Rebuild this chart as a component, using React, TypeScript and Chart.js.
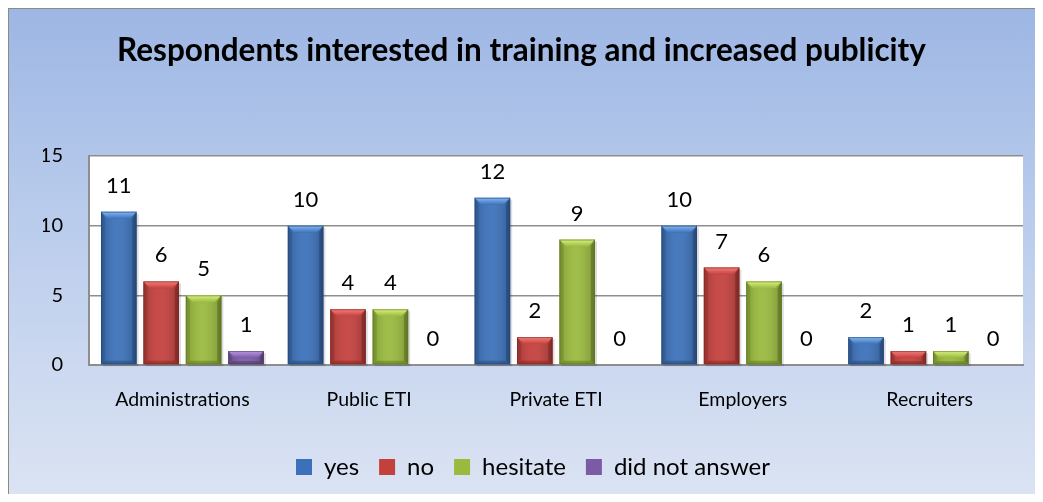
import React, { useEffect, useRef } from "react";
import { Chart, registerables } from "chart.js";

Chart.register(...registerables);

const categories = ["Administrations", "Public ETI", "Private ETI", "Employers", "Recruiters"];
const seriesNames = ["yes", "no", "hesitate", "did not answer"];
const yesValues = [11, 10, 12, 10, 2];
const noValues = [6, 4, 2, 7, 1];
const hesitateValues = [5, 4, 9, 6, 1];
const noAnswerValues = [1, 0, 0, 0, 0];
const yTickValues = [0, 5, 10, 15];
const titleText = "Respondents interested in training and increased publicity";
const figureCaption = "Figure 6";

const palette = [
  { body: "#3b71ba", light: "#86b9f2", dark: "#23477a" },
  { body: "#c4403d", light: "#f5807c", dark: "#852523" },
  { body: "#99ba3d", light: "#daf283", dark: "#5f771e" },
  { body: "#7c5ba5", light: "#bd9ae9", dark: "#4b356a" },
];

const FONT = "Lato, 'Open Sans', 'DejaVu Sans', sans-serif";

const plotBackground = {
  id: "plotBackground",
  beforeDraw(chart: any) {
    const { ctx, chartArea } = chart;
    ctx.save();
    ctx.fillStyle = "#ffffff";
    ctx.fillRect(chartArea.left, chartArea.top, chartArea.right - chartArea.left, chartArea.bottom - chartArea.top);
    ctx.restore();
  },
};

const centeredTitle = {
  id: "centeredTitle",
  afterDraw(chart: any) {
    const { ctx } = chart;
    ctx.save();
    ctx.font = `bold 31.5px ${FONT}`;
    ctx.fillStyle = "#000000";
    ctx.textAlign = "center";
    ctx.textBaseline = "middle";
    ctx.fillText(titleText, 512.5, 42);
    ctx.restore();
  },
};

const barShadow = {
  id: "barShadow",
  beforeDatasetsDraw(chart: any) {
    const { ctx } = chart;
    ctx.save();
    chart.data.datasets.forEach((_: any, di: number) => {
      const meta = chart.getDatasetMeta(di);
      meta.data.forEach((el: any) => {
        const { x, y, base, width } = el.getProps(["x", "y", "base", "width"], true);
        const h = base - y;
        if (h <= 0) return;
        ctx.fillStyle = "rgba(0,0,0,0.13)";
        ctx.fillRect(x - width / 2 + 2, y + 2, width, h);
      });
    });
    ctx.restore();
  },
};

const bevel = {
  id: "bevel",
  afterDatasetsDraw(chart: any) {
    const { ctx } = chart;
    ctx.save();
    chart.data.datasets.forEach((_: any, di: number) => {
      const meta = chart.getDatasetMeta(di);
      const col = palette[di];
      meta.data.forEach((el: any) => {
        const { x, y, base, width } = el.getProps(["x", "y", "base", "width"], true);
        const left = x - width / 2;
        const right = x + width / 2;
        const top = y;
        const bottom = base;
        const h = bottom - top;
        if (h <= 0) return;
        const b = Math.min(7, h / 2, width / 2);
        const g = ctx.createLinearGradient(left, 0, right, 0);
        g.addColorStop(0, "rgba(0,0,0,0.16)");
        g.addColorStop(0.45, "rgba(255,255,255,0.06)");
        g.addColorStop(1, "rgba(0,0,0,0.2)");
        ctx.fillStyle = g;
        ctx.fillRect(left, top, width, h);
        const tg = ctx.createLinearGradient(0, top, 0, top + b);
        tg.addColorStop(0, col.light);
        tg.addColorStop(1, col.body);
        ctx.fillStyle = tg;
        ctx.beginPath();
        ctx.moveTo(left, top);
        ctx.lineTo(right, top);
        ctx.lineTo(right - b, top + b);
        ctx.lineTo(left + b, top + b);
        ctx.closePath();
        ctx.fill();
        ctx.fillStyle = "rgba(0,0,0,0.10)";
        ctx.beginPath();
        ctx.moveTo(left, top);
        ctx.lineTo(left + b * 0.6, top + b);
        ctx.lineTo(left + b * 0.6, bottom - b * 0.5);
        ctx.lineTo(left, bottom);
        ctx.closePath();
        ctx.fill();
        ctx.fillStyle = "rgba(0,0,0,0.2)";
        ctx.beginPath();
        ctx.moveTo(right, top);
        ctx.lineTo(right - b * 0.6, top + b);
        ctx.lineTo(right - b * 0.6, bottom - b * 0.5);
        ctx.lineTo(right, bottom);
        ctx.closePath();
        ctx.fill();
        ctx.fillStyle = col.dark;
        ctx.globalAlpha = 0.5;
        ctx.beginPath();
        ctx.moveTo(left, bottom);
        ctx.lineTo(left + b * 0.6, bottom - b * 0.5);
        ctx.lineTo(right - b * 0.6, bottom - b * 0.5);
        ctx.lineTo(right, bottom);
        ctx.closePath();
        ctx.fill();
        ctx.globalAlpha = 0.6;
        ctx.strokeStyle = col.dark;
        ctx.lineWidth = 1;
        ctx.strokeRect(left + 0.5, top + 0.5, width - 1, h - 1);
        ctx.globalAlpha = 1;
      });
    });
    ctx.restore();
  },
};

const valueLabels = {
  id: "valueLabels",
  afterDatasetsDraw(chart: any) {
    const { ctx } = chart;
    ctx.save();
    ctx.font = `22px ${FONT}`;
    ctx.fillStyle = "#000000";
    ctx.textAlign = "center";
    ctx.textBaseline = "middle";
    chart.data.datasets.forEach((ds: any, di: number) => {
      const meta = chart.getDatasetMeta(di);
      meta.data.forEach((el: any, i: number) => {
        const { x, y } = el.getProps(["x", "y"], true);
        ctx.fillText(String(ds.data[i]), x, y - 26);
      });
    });
    ctx.restore();
  },
};

export default function App() {
  const canvasRef = useRef<HTMLCanvasElement | null>(null);

  useEffect(() => {
    const canvas = canvasRef.current;
    if (!canvas) return;
    const seriesValues = [yesValues, noValues, hesitateValues, noAnswerValues];
    const chart = new Chart(canvas, {
      type: "bar",
      data: {
        labels: categories,
        datasets: seriesNames.map((name, i) => ({
          label: name,
          data: seriesValues[i],
          backgroundColor: palette[i].body,
          borderWidth: 0,
          categoryPercentage: 0.908,
          barPercentage: 0.84,
        })),
      },
      options: {
        responsive: false,
        animation: false,
        devicePixelRatio: 1,
        layout: { padding: { left: 34, right: 20, top: 147, bottom: 13 } },
        plugins: {
          title: { display: false },
          legend: {
            display: true,
            position: "bottom",
            labels: {
              color: "#000000",
              font: { family: FONT, size: 24 },
              boxWidth: 16,
              boxHeight: 16,
              padding: 20,
            },
          },
          tooltip: { enabled: false },
        },
        scales: {
          x: {
            afterFit: (s: any) => {
              s.height = 70;
            },
            grid: { display: false, drawTicks: false },
            border: { display: true, color: "#8e8e8e", width: 2 },
            ticks: {
              color: "#000000",
              font: { family: FONT, size: 19.5 },
              padding: 23,
              maxRotation: 0,
            },
          },
          y: {
            min: 0,
            max: 15,
            afterFit: (s: any) => {
              s.width = 46;
            },
            afterBuildTicks: (s: any) => {
              s.ticks = yTickValues.map((v) => ({ value: v }));
            },
            grid: { color: "#8e8e8e", lineWidth: 1.5, drawTicks: false },
            border: { display: true, color: "#8e8e8e", width: 2 },
            ticks: {
              color: "#000000",
              font: { family: FONT, size: 20 },
              padding: 26,
            },
          },
        },
      },
      plugins: [plotBackground, barShadow, bevel, valueLabels, centeredTitle],
    });
    return () => chart.destroy();
  }, []);

  return (
    <div style={{ position: "relative", width: 1043, height: 502, margin: -8, overflow: "hidden", background: "#ffffff" }}>
      <div
        style={{
          position: "absolute",
          top: -13,
          left: 0,
          width: 1043,
          textAlign: "center",
          fontFamily: FONT,
          fontWeight: "bold",
          fontSize: 20,
          lineHeight: "24px",
          color: "#4f81bd",
        }}
      >
        {figureCaption}
      </div>
      <div
        style={{
          position: "absolute",
          left: 7,
          top: 7,
          width: 1034,
          height: 493,
          borderLeft: "2px solid #8a8a8a",
          borderTop: "2px solid #8a8a8a",
          background: "linear-gradient(to bottom, #9db6e3 0%, #b8cbec 40%, #dce4f3 100%)",
        }}
      >
        <canvas ref={canvasRef} width={1034} height={493} style={{ display: "block" }} />
      </div>
    </div>
  );
}
